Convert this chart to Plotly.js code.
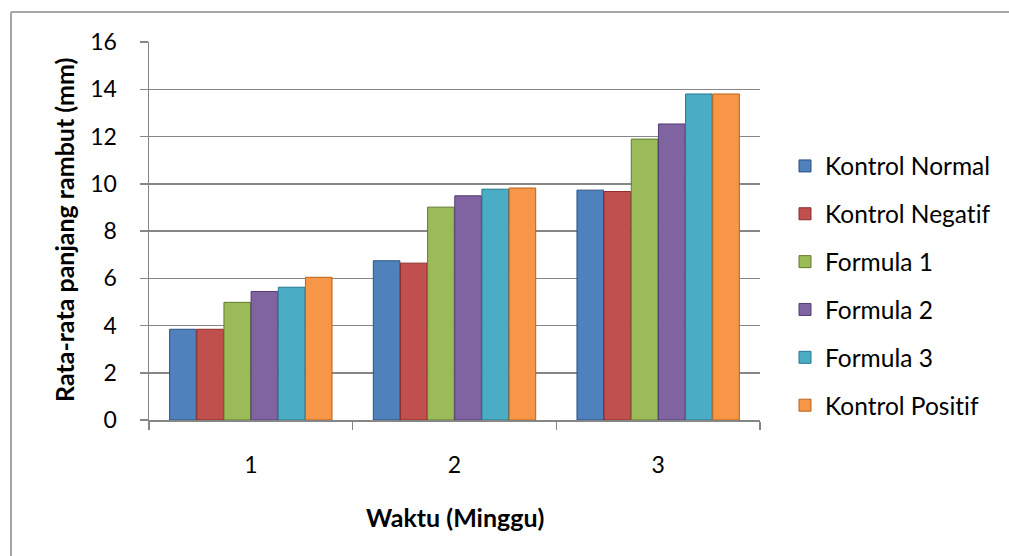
<!DOCTYPE html>
<html>
<head>
<meta charset="utf-8">
<script src="https://cdn.plot.ly/plotly-3.0.1.min.js"></script>
<style>
html,body{margin:0;padding:0;background:#fff;}
#chart{width:1009px;height:556px;}
#chart text,#chart tspan{font-variant-ligatures:none !important;font-feature-settings:"liga" 0,"clig" 0,"dlig" 0 !important;}
</style>
</head>
<body>
<div id="chart"></div>
<script>
var weeks = ['1', '2', '3'];
var seriesNames = ['Kontrol Normal', 'Kontrol Negatif', 'Formula 1', 'Formula 2', 'Formula 3', 'Kontrol Positif'];
var kontrolNormal = [3.84, 6.74, 9.73];
var kontrolNegatif = [3.84, 6.64, 9.67];
var formula1 = [4.98, 9.01, 11.89];
var formula2 = [5.44, 9.49, 12.53];
var formula3 = [5.62, 9.77, 13.8];
var kontrolPositif = [6.04, 9.82, 13.8];
var yTicks = [0, 2, 4, 6, 8, 10, 12, 14, 16];

var seriesValues = [kontrolNormal, kontrolNegatif, formula1, formula2, formula3, kontrolPositif];
var fills = ['#4F81BD', '#C0504D', '#9BBB59', '#8064A2', '#4BACC6', '#F79646'];
var edges = ['#2C5182', '#8C2A28', '#607A2E', '#523D72', '#24798F', '#B7621C'];

var FONT = 'Lato, "Open Sans", sans-serif';

var traces = seriesNames.map(function (name, i) {
  return {
    type: 'bar',
    name: name,
    x: weeks,
    y: seriesValues[i],
    legendgroup: 'g' + i,
    marker: { color: fills[i], line: { color: edges[i], width: 1 } },
    hoverinfo: 'name+y'
  };
});

var W = 1009, H = 556;
var mL = 149, mR = 249, mT = 42, mB = 136;
var pw = W - mL - mR, ph = H - mT - mB;
function px(x) { return (x - mL) / pw; }
function py(y) { return (H - mB - y) / ph; }

var layout = {
  width: W, height: H,
  margin: { l: mL, r: mR, t: mT, b: mB, pad: 0 },
  paper_bgcolor: '#ffffff',
  plot_bgcolor: 'rgba(0,0,0,0)',
  font: { family: FONT, color: '#000000', size: 23 },
  barmode: 'group',
  bargap: 0.2,
  bargroupgap: 0.02,
  showlegend: true,
  legend: {
    x: px(785), xanchor: 'left',
    y: py(286), yanchor: 'middle',
    font: { family: FONT, size: 24.5, color: '#000' },
    tracegroupgap: 13,
    bgcolor: 'rgba(0,0,0,0)'
  },
  xaxis: {
    type: 'category',
    range: [-0.5, 2.5],
    showgrid: false,
    zeroline: false,
    showline: true, linecolor: '#868686', linewidth: 1.5,
    ticks: 'outside', ticklen: 8, tickcolor: '#868686', tickwidth: 1.5,
    tickson: 'boundaries',
    ticklabelstandoff: 24,
    tickfont: { family: FONT, size: 23, color: '#000' },
    fixedrange: true
  },
  yaxis: {
    range: [0, 16],
    tickvals: yTicks,
    ticktext: yTicks.map(String),
    showgrid: true, gridcolor: '#868686', gridwidth: 1.5,
    zeroline: false,
    showline: true, linecolor: '#868686', linewidth: 1.5,
    ticks: 'outside', ticklen: 8, tickcolor: '#868686', tickwidth: 1.5,
    ticklabelstandoff: 18,
    tickfont: { family: FONT, size: 23, color: '#000' },
    fixedrange: true
  },
  shapes: [
    { type: 'line', xref: 'paper', yref: 'paper', x0: px(11), x1: px(11), y0: py(12), y1: py(560), line: { color: '#A6A6A6', width: 2 } },
    { type: 'line', xref: 'paper', yref: 'paper', x0: px(11), x1: px(1012), y0: py(12), y1: py(12), line: { color: '#A6A6A6', width: 2 } }
  ],
  annotations: [
    { text: '<b>Rata-rata panjang rambut (mm)</b>', xref: 'paper', yref: 'paper', x: px(64), y: py(230), textangle: -90, showarrow: false, xanchor: 'center', yanchor: 'middle', font: { family: FONT, size: 25, color: '#000' } },
    { text: '<b>Waktu (Minggu)</b>', xref: 'paper', yref: 'paper', x: px(455), y: py(517), showarrow: false, xanchor: 'center', yanchor: 'middle', font: { family: FONT, size: 25, color: '#000' } }
  ]
};

Plotly.newPlot('chart', traces, layout, { displayModeBar: false, staticPlot: true });
</script>
</body>
</html>
